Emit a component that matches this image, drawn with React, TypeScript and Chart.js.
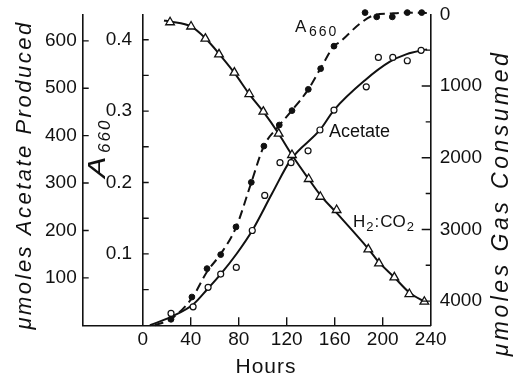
import React, { useEffect, useRef } from 'react';
import { Chart, registerables } from 'chart.js';

Chart.register(...registerables);

// Tick values
const hourTicks = [0, 40, 80, 120, 160, 200, 240];
const hourTickMarks = [40, 80, 120, 160, 200];
const acetateTicks = [100, 200, 300, 400, 500, 600];
const a660Ticks = [0.1, 0.2, 0.3, 0.4];
const a660TickMarks = [0.05, 0.1, 0.15, 0.2, 0.25, 0.3, 0.35, 0.4];
const gasTicks = [0, 1000, 2000, 3000, 4000];
const gasTickMarks = [1000, 2000, 3000, 4000];
const gasMinorTickMarks = [500, 1500, 2500, 3500];

// H2:CO2 gas consumed (open triangles)
const gasHours = [22.8, 40.3, 52.2, 63.6, 76.4, 88.8, 100.5, 113.3, 124.4, 138.3, 148, 161.6, 188, 196.9, 209.7, 222.2, 234.7];
const gasValues = [111, 170, 340, 558, 814, 1112, 1358, 1665, 1962, 2297, 2544, 2729, 3278, 3473, 3668, 3901, 4008];

// A660 (filled circles)
const a660Hours = [23.6, 41, 53.6, 65, 77.75, 90.5, 101, 113.8, 124.4, 138, 148.3, 159.4, 185.3, 195, 208, 220.5, 232.5];
const a660Values = [0.0084, 0.0396, 0.0794, 0.099, 0.1378, 0.2003, 0.251, 0.2805, 0.3007, 0.3305, 0.3595, 0.391, 0.438, 0.432, 0.432, 0.438, 0.438];

// Acetate produced (open circles)
const acetateHours = [23.6, 42, 54.5, 65, 78, 91.3, 101.7, 114.4, 123.6, 137.8, 147.7, 159.4, 186.3, 196.4, 208.4, 220.5, 232];
const acetateValues = [25, 39, 80, 108, 122, 200, 274, 343, 343, 368, 412, 454, 503, 565, 565, 558, 580];

// Fitted curves
const gasCurveHours = [17.75, 22.8, 40.3, 52.2, 63.8, 76.3, 88.8, 100.5, 113.3, 124.4, 138.3, 148, 161.6, 188, 197, 209.7, 222.2, 236];
const gasCurveValues = [85, 100, 170, 335, 554, 814, 1112, 1358, 1665, 1962, 2297, 2520, 2770, 3270, 3460, 3668, 3880, 4020];

const a660CurveHours = [10, 23.6, 41, 53.6, 65, 77.75, 90.5, 101, 113.8, 124.4, 138, 148.3, 159.4, 164.4, 181, 192.2, 206, 219.8, 237];
const a660CurveValues = [0, 0.009, 0.038, 0.075, 0.1, 0.137, 0.2, 0.251, 0.28, 0.301, 0.3305, 0.36, 0.391, 0.397, 0.4225, 0.434, 0.4366, 0.438, 0.4374];

const acetateCurveHours = [6, 23.6, 42.2, 53.6, 65, 78.3, 91.3, 107.8, 123.6, 147.7, 159.4, 185.3, 206, 220, 237];
const acetateCurveValues = [0, 17.7, 44.5, 75.5, 108, 151, 200, 278, 350, 412, 454, 517, 556, 572, 582];

const FONT = '"Liberation Sans", Arial, sans-serif';
const INK = '#111';

const pts = (xs: number[], ys: number[]) => xs.map((x, i) => ({ x, y: ys[i] }));

const noPad = (s: any) => {
  s.paddingTop = 0;
  s.paddingBottom = 0;
};

const tickMarksPlugin = {
  id: 'tickMarks',
  afterDraw(chart: any) {
    const { ctx, chartArea, scales } = chart;
    ctx.save();
    ctx.strokeStyle = INK;
    ctx.lineWidth = 1.4;
    ctx.beginPath();
    const yAc = scales.yAc;
    acetateTicks.forEach((v) => {
      const y = yAc.getPixelForValue(v);
      ctx.moveTo(chartArea.left, y);
      ctx.lineTo(chartArea.left + 6, y);
    });
    const yA = scales.yA;
    const x0 = scales.x.getPixelForValue(0);
    a660TickMarks.forEach((v) => {
      const y = yA.getPixelForValue(v);
      ctx.moveTo(x0, y);
      ctx.lineTo(x0 + 6, y);
    });
    const yG = scales.yGas;
    gasTickMarks.forEach((v) => {
      const y = yG.getPixelForValue(v);
      ctx.moveTo(chartArea.right, y);
      ctx.lineTo(chartArea.right - 9, y);
    });
    gasMinorTickMarks.forEach((v) => {
      const y = yG.getPixelForValue(v);
      ctx.moveTo(chartArea.right, y);
      ctx.lineTo(chartArea.right - 5, y);
    });
    hourTickMarks.forEach((v) => {
      const x = scales.x.getPixelForValue(v);
      ctx.moveTo(x, chartArea.bottom);
      ctx.lineTo(x, chartArea.bottom - 8);
    });
    ctx.stroke();
    ctx.restore();
  },
};

const textPlugin = {
  id: 'texts',
  afterDraw(chart: any) {
    const { ctx } = chart;
    ctx.save();
    ctx.fillStyle = INK;
    ctx.textBaseline = 'middle';

    // Left title
    ctx.save();
    ctx.translate(25, 175);
    ctx.rotate(-Math.PI / 2);
    ctx.textAlign = 'center';
    ctx.font = `italic 22px ${FONT}`;
    (ctx as any).letterSpacing = '2.5px';
    ctx.fillText('\u03bcmoles Acetate Produced', 0, 0);
    ctx.restore();

    // Right title
    ctx.save();
    ctx.translate(502, 203);
    ctx.rotate(-Math.PI / 2);
    ctx.textAlign = 'center';
    ctx.font = `italic 23px ${FONT}`;
    (ctx as any).letterSpacing = '3.5px';
    ctx.fillText('\u03bcmoles Gas Consumed', 0, 0);
    ctx.restore();

    // Hours
    ctx.save();
    ctx.textAlign = 'center';
    ctx.font = `21px ${FONT}`;
    (ctx as any).letterSpacing = '1px';
    ctx.fillText('Hours', 266, 367);
    ctx.restore();

    // Vertical A660 label
    ctx.save();
    ctx.translate(105, 178);
    ctx.rotate(-Math.PI / 2);
    ctx.textAlign = 'left';
    ctx.textBaseline = 'alphabetic';
    ctx.save();
    ctx.scale(1.4, 1);
    ctx.font = `italic 23px ${FONT}`;
    ctx.fillText('A', 0, 0);
    ctx.restore();
    ctx.font = `italic 17px ${FONT}`;
    (ctx as any).letterSpacing = '2px';
    ctx.fillText('660', 25, 5);
    ctx.restore();

    // In-plot labels
    ctx.textAlign = 'left';
    ctx.textBaseline = 'alphabetic';
    ctx.font = `17px ${FONT}`;
    ctx.fillText('A', 295, 32);
    ctx.save();
    ctx.font = `14px ${FONT}`;
    (ctx as any).letterSpacing = '2px';
    ctx.fillText('660', 309, 36);
    ctx.restore();

    ctx.font = `18px ${FONT}`;
    ctx.fillText('Acetate', 329, 137);

    let x = 353;
    ctx.font = `17px ${FONT}`;
    ctx.fillText('H', x, 227);
    x += ctx.measureText('H').width + 1;
    ctx.font = `13px ${FONT}`;
    ctx.fillText('2', x, 231);
    x += ctx.measureText('2').width + 1;
    ctx.font = `17px ${FONT}`;
    ctx.fillText(':', x, 227);
    x += ctx.measureText(':').width + 1;
    ctx.fillText('CO', x, 227);
    x += ctx.measureText('CO').width + 1;
    ctx.font = `13px ${FONT}`;
    ctx.fillText('2', x, 231);

    ctx.restore();
  },
};

export default function App() {
  const ref = useRef<HTMLCanvasElement | null>(null);

  useEffect(() => {
    document.body.style.margin = '0';
    if (!ref.current) return;
    const tickFont = { family: FONT, size: 19 };
    const chart = new Chart(ref.current, {
      type: 'scatter',
      data: {
        datasets: [
          {
            label: 'H2:CO2',
            data: pts(gasHours, gasValues),
            yAxisID: 'yGas',
            pointStyle: 'triangle',
            pointRadius: 5,
            pointBackgroundColor: '#fff',
            pointBorderColor: INK,
            pointBorderWidth: 1.3,
            showLine: false,
            clip: false,
            order: 0,
          },
          {
            label: 'A660',
            data: pts(a660Hours, a660Values),
            yAxisID: 'yA',
            pointStyle: 'circle',
            pointRadius: 2.9,
            pointBackgroundColor: INK,
            pointBorderColor: INK,
            pointBorderWidth: 1,
            showLine: false,
            clip: false,
            order: 0,
          },
          {
            label: 'Acetate',
            data: pts(acetateHours, acetateValues),
            yAxisID: 'yAc',
            pointStyle: 'circle',
            pointRadius: 3,
            pointBackgroundColor: '#fff',
            pointBorderColor: INK,
            pointBorderWidth: 1.2,
            showLine: false,
            clip: false,
            order: 0,
          },
          {
            label: 'gas curve',
            data: pts(gasCurveHours, gasCurveValues),
            yAxisID: 'yGas',
            showLine: true,
            pointRadius: 0,
            borderColor: INK,
            borderWidth: 2,
            cubicInterpolationMode: 'monotone',
            clip: false,
            order: 1,
          },
          {
            label: 'A660 curve',
            data: pts(a660CurveHours, a660CurveValues),
            yAxisID: 'yA',
            showLine: true,
            pointRadius: 0,
            borderColor: INK,
            borderWidth: 2,
            borderDash: [9, 5],
            cubicInterpolationMode: 'monotone',
            clip: false,
            order: 1,
          },
          {
            label: 'acetate curve',
            data: pts(acetateCurveHours, acetateCurveValues),
            yAxisID: 'yAc',
            showLine: true,
            pointRadius: 0,
            borderColor: INK,
            borderWidth: 2,
            cubicInterpolationMode: 'monotone',
            clip: false,
            order: 1,
          },
        ],
      },
      options: {
        responsive: false,
        animation: false,
        devicePixelRatio: 1,
        layout: { padding: { top: 14.3, left: 0, right: 0, bottom: 0 } },
        plugins: { legend: { display: false }, tooltip: { enabled: false } },
        scales: {
          x: {
            type: 'linear',
            position: 'bottom',
            min: -50,
            max: 240,
            afterBuildTicks: (s: any) => { s.ticks = hourTicks.map((v) => ({ value: v })); },
            afterFit: (s: any) => { s.height = 51.7; s.paddingLeft = 0; s.paddingRight = 0; },
            ticks: { font: tickFont, color: INK, padding: 3, maxRotation: 0, autoSkip: false, callback: (v: any) => String(v) },
            grid: { display: false, drawTicks: false },
            border: { display: true, color: INK, width: 1.6 },
          },
          yAc: {
            type: 'linear',
            position: 'left',
            min: 0,
            max: 656,
            afterBuildTicks: (s: any) => { s.ticks = acetateTicks.map((v) => ({ value: v })); },
            afterFit: (s: any) => { s.width = 82.7; noPad(s); },
            ticks: { font: tickFont, color: INK, padding: 6, callback: (v: any) => String(v) },
            grid: { display: false, drawTicks: false },
            border: { display: true, color: INK, width: 1.6 },
          },
          yA: {
            type: 'linear',
            position: { x: 0 } as any,
            min: 0,
            max: 0.4356,
            afterBuildTicks: (s: any) => { s.ticks = a660Ticks.map((v) => ({ value: v })); },
            afterFit: (s: any) => { noPad(s); },
            ticks: {
              font: tickFont,
              color: INK,
              callback: (v: any) => `${Number(v).toFixed(1)}  `,
            },
            grid: { display: false, drawTicks: false },
            border: { display: true, color: INK, width: 1.6 },
          },
          yGas: {
            type: 'linear',
            position: 'right',
            reverse: true,
            min: 0,
            max: 4337,
            afterBuildTicks: (s: any) => { s.ticks = gasTicks.map((v) => ({ value: v })); },
            afterFit: (s: any) => { s.width = 82.3; noPad(s); },
            ticks: { font: tickFont, color: INK, padding: 9, callback: (v: any) => String(v) },
            grid: { display: false, drawTicks: false },
            border: { display: true, color: INK, width: 1.6 },
          },
        },
      } as any,
      plugins: [tickMarksPlugin, textPlugin],
    });
    return () => chart.destroy();
  }, []);

  return (
    <div style={{ width: 513, height: 377, background: '#fff' }}>
      <canvas ref={ref} width={513} height={377} style={{ display: 'block' }} />
    </div>
  );
}
